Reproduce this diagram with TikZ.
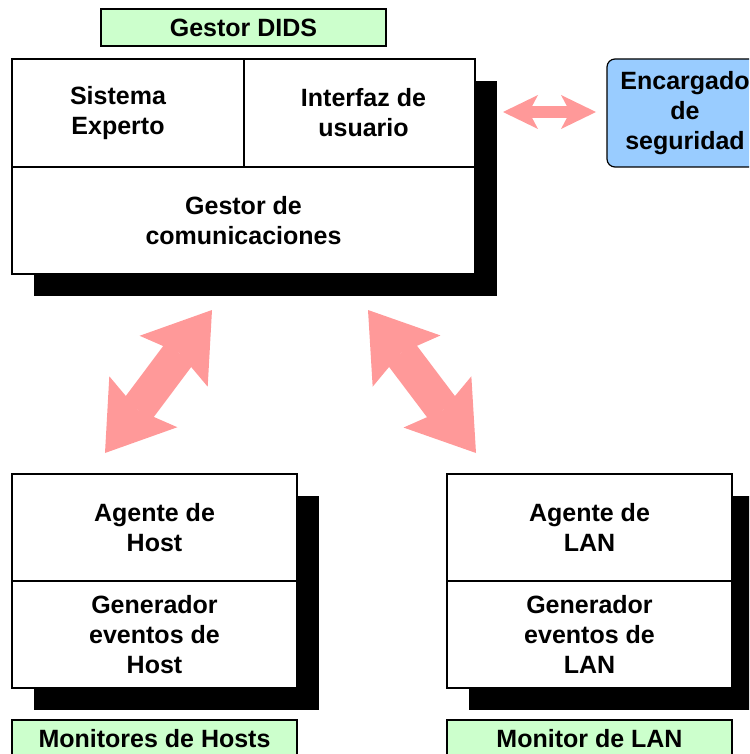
\documentclass[tikz,border=0pt]{standalone}
\usepackage{fontspec}
\setmainfont{Liberation Sans}
\usepackage{tikz}
\usetikzlibrary{arrows.meta,positioning,shadows}

\definecolor{verde}{HTML}{CCFFCC}
\definecolor{celeste}{HTML}{99CCFF}
\definecolor{rosa}{HTML}{FF9999}

\begin{document}
\begin{tikzpicture}[x=0.5pt,y=-0.5pt,
  texto/.style={font=\bfseries\fontsize{12.5pt}{15pt}\selectfont,align=center,inner sep=0pt},
  celda/.style={texto,draw,line width=0.6pt,fill=white},
  marco/.style={draw,line width=0.6pt,fill=white,
    drop shadow={shadow xshift=11pt,shadow yshift=-11pt,fill=black,opacity=1}},
  etiqueta/.style={celda,fill=verde,minimum width=142.5pt,minimum height=18.5pt},
  flecha/.style={draw=rosa,line width=17.5pt,
    {Stealth[length=32pt,width=42.5pt,inset=5pt,line width=0pt,fill=rosa]}-{Stealth[length=32pt,width=42.5pt,inset=5pt,line width=0pt,fill=rosa]}},
  flechita/.style={draw=rosa,line width=6pt,
    {Stealth[length=17.5pt,width=17pt,inset=4.5pt,line width=0pt,fill=rosa]}-{Stealth[length=17.5pt,width=17pt,inset=4.5pt,line width=0pt,fill=rosa]}}
]
  \useasboundingbox (0,0) rectangle (749,754);
  \clip (0,0) rectangle (749,754);

  % gestor DIDS
  \node[etiqueta] (tgestor) at (243.5,27.5) {Gestor DIDS};
  \node[marco,minimum width=231.5pt,minimum height=107.5pt] (gestor) at (243.5,166.5) {};
  \node[celda,minimum width=116pt,minimum height=54pt] (sistema) at (128,113)
    {Sistema\hspace*{10pt}\\Experto\hspace*{10pt}};
  \node[celda,minimum width=115.5pt,minimum height=54pt] (interfaz) at (359.5,113)
    {\hspace*{4pt}Interfaz de\\\hspace*{4pt}usuario};
  \node[celda,minimum width=231.5pt,minimum height=53.5pt] (comunic) at (243.5,220.5) {Gestor de\\comunicaciones};

  % encargado de seguridad
  \node[celda,fill=celeste,rounded corners=4pt,minimum width=78pt,minimum height=54pt]
    (encargado) at (685,113) {Encargado\\de\\seguridad};

  % monitor de hosts
  \node[marco,minimum width=142.5pt,minimum height=107pt] (hosts) at (154.5,581) {};
  \node[celda,minimum width=142.5pt,minimum height=53.5pt] (agenteH) at (154.5,527.5) {Agente de\\Host};
  \node[celda,minimum width=142.5pt,minimum height=53.5pt] (generH) at (154.5,634.5) {Generador\\eventos de\\Host};
  \node[etiqueta] (thosts) at (154.5,738.5) {Monitores de Hosts};

  % monitor de LAN
  \node[marco,minimum width=142.5pt,minimum height=107pt] (lan) at (589.5,581) {};
  \node[celda,minimum width=142.5pt,minimum height=53.5pt] (agenteL) at (589.5,527.5) {Agente de\\LAN};
  \node[celda,minimum width=142.5pt,minimum height=53.5pt] (generL) at (589.5,634.5) {Generador\\eventos de\\LAN};
  \node[etiqueta] (tlan) at (589.5,738.5) {Monitor de LAN};

  % flechas
  \coordinate (fh1) at (503,112);
  \coordinate (fh2) at (596,112);
  \coordinate (fi1) at (212,310);
  \coordinate (fi2) at (105,453);
  \coordinate (fd1) at (368,310);
  \coordinate (fd2) at (476,453);
  \draw[flechita] (fh1) -- (fh2);
  \draw[flecha] (fi1) -- (fi2);
  \draw[flecha] (fd1) -- (fd2);

\end{tikzpicture}
\end{document}
